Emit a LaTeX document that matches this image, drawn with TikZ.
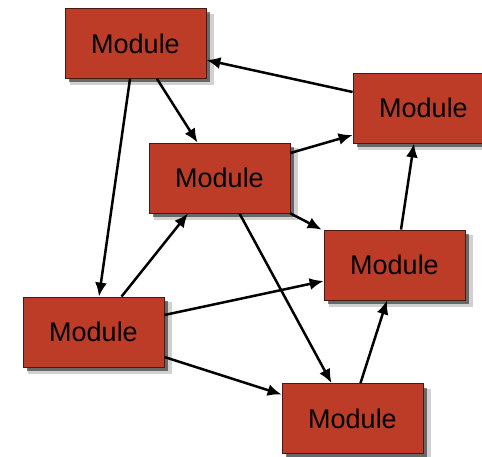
\documentclass[tikz,border=0pt]{standalone}
\usepackage{fontspec}
\setmainfont{Liberation Sans}
\usetikzlibrary{arrows.meta,shadows}
\definecolor{modred}{RGB}{188,60,40}
\definecolor{modedge}{RGB}{70,25,18}
\begin{document}
\begin{tikzpicture}[x=1pt,y=-1pt,
    module/.style={draw=modedge,line width=0.8pt,fill=modred,minimum width=141pt,minimum height=70pt,
      inner sep=0pt,font=\fontsize{27}{30}\selectfont,
      general shadow={shadow xshift=6pt,shadow yshift=-6pt,opacity=0.18,fill=black,shadow scale=1.02},
      drop shadow={shadow xshift=4pt,shadow yshift=-4pt,opacity=0.5,fill=black}},
    link/.style={line width=2.5pt,-{Latex[length=14pt,width=12pt]}}]
        \useasboundingbox (0,0) rectangle (482,457);
        \clip (0,0) rectangle (482,457);
        % 绘制模块
        \node[module] (tl) at (135.5,43.5) {Module};
        \node[module] (tr) at (423.5,108) {Module};
        \node[module] (mid) at (219.5,178) {Module};
        \node[module] (rm) at (394.5,265) {Module};
        \node[module] (bl) at (93.5,332) {Module};
        \node[module] (bot) at (352.5,418.5) {Module};
        % 绘制连线
        \draw[link] ([yshift=16pt]tr.west) -- ([yshift=-16.5pt]tl.east);
        \draw[link] ([xshift=21.5pt]tl.south) -- ([xshift=-22pt]mid.north);
        \draw[link] ([xshift=-5.5pt]tl.south) -- ([xshift=5.5pt]bl.north);
        \draw[link] ([yshift=25pt]mid.east) -- ([yshift=-27pt]tr.west);
        \draw[link] (mid.south east) -- ([xshift=-2pt]rm.north west);
        \draw[link] ([xshift=20pt]mid.south) -- ([xshift=-21pt]bot.north);
        \draw[link] ([xshift=28pt]bl.north) -- ([xshift=-31.5pt]mid.south);
        \draw[link] ([yshift=17pt]bl.east) -- ([yshift=-16pt]rm.west);
        \draw[link] ([yshift=-25pt]bl.east) -- ([yshift=24pt]bot.west);
        \draw[link] ([xshift=8pt]bot.north) -- ([xshift=-7.5pt]rm.south);
        \draw[link] ([xshift=6.5pt]rm.north) -- ([xshift=-9.5pt]tr.south);
\end{tikzpicture}
\end{document}
